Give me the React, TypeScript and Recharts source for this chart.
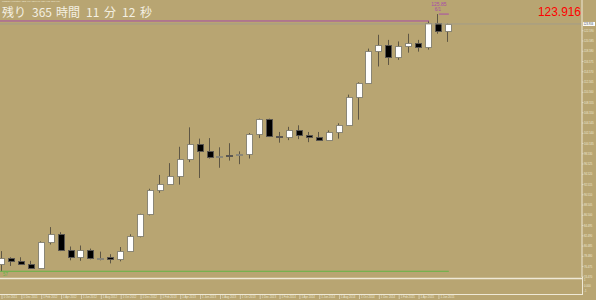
import React from 'react';
import { ComposedChart, Bar, XAxis, YAxis, ReferenceLine } from 'recharts';

// Monthly candles, Oct 2011 .. Jul 2015
const months = [
  '2011-10', '2011-11', '2011-12', '2012-01', '2012-02', '2012-03', '2012-04', '2012-05', '2012-06', '2012-07',
  '2012-08', '2012-09', '2012-10', '2012-11', '2012-12', '2013-01', '2013-02', '2013-03', '2013-04', '2013-05',
  '2013-06', '2013-07', '2013-08', '2013-09', '2013-10', '2013-11', '2013-12', '2014-01', '2014-02', '2014-03',
  '2014-04', '2014-05', '2014-06', '2014-07', '2014-08', '2014-09', '2014-10', '2014-11', '2014-12', '2015-01',
  '2015-02', '2015-03', '2015-04', '2015-05', '2015-06', '2015-07',
];
const opens = [
  77.0, 78.1, 77.5, 77.0, 76.2, 81.2, 82.9, 79.8, 78.4, 79.8,
  78.1, 78.3, 77.9, 79.6, 82.5, 86.7, 91.5, 92.6, 94.2, 97.5,
  100.4, 99.1, 97.9, 98.3, 98.2, 98.4, 102.4, 105.3, 102.0, 101.8,
  103.2, 102.2, 101.8, 101.3, 102.8, 104.1, 109.7, 112.3, 118.6, 119.8,
  117.5, 119.6, 120.1, 119.4, 124.1, 122.49,
];
const highs = [
  79.5, 78.3, 78.3, 77.6, 81.4, 84.2, 83.2, 80.4, 80.6, 80.0,
  79.4, 78.9, 80.3, 82.8, 86.8, 91.7, 94.4, 96.7, 99.9, 103.7,
  101.5, 101.6, 99.8, 100.6, 99.0, 102.6, 105.4, 105.4, 102.8, 103.8,
  104.1, 102.8, 102.8, 103.1, 104.5, 110.1, 112.5, 119.1, 121.8, 120.8,
  120.5, 122.0, 120.8, 124.5, 125.85, 123.99,
];
const lows = [
  75.56, 76.6, 77.1, 76.0, 76.1, 80.8, 79.5, 77.7, 77.6, 77.9,
  77.7, 77.1, 77.5, 79.5, 82.2, 86.5, 90.9, 92.5, 92.5, 96.9,
  93.8, 97.6, 95.8, 97.2, 96.5, 97.6, 101.6, 101.8, 100.7, 101.2,
  101.4, 100.8, 101.1, 101.1, 101.5, 104.0, 105.2, 112.2, 115.6, 115.9,
  116.9, 118.3, 118.5, 118.9, 122.0, 120.41,
];
const closes = [
  78.1, 77.5, 77.0, 76.2, 81.2, 82.9, 79.8, 78.4, 79.8, 78.2,
  78.2, 77.9, 79.6, 82.5, 86.7, 91.5, 92.6, 94.2, 97.5, 100.4,
  99.1, 97.9, 98.1, 98.2, 98.4, 102.4, 105.3, 102.0, 101.8, 103.2,
  102.2, 101.8, 101.3, 102.8, 104.1, 109.7, 112.3, 118.6, 119.8, 117.5,
  119.6, 120.1, 119.4, 124.1, 122.5, 123.916,
];

const priceTicks = [
  122.59, 120.585, 118.58, 116.575, 114.57, 112.565, 110.56, 108.555, 106.55, 104.545,
  102.54, 100.535, 98.53, 96.525, 94.52, 92.515, 90.51, 88.505, 86.5, 84.495,
  82.49, 80.485, 78.48, 76.475, 74.47,
];
const dateTickIndex = [0, 2, 4, 6, 8, 10, 12, 14, 16, 18, 20, 22, 24, 26, 28, 30, 32, 34, 36, 38, 40, 42, 44];
const dateTickLabels = [
  '1 Oct 2011', '1 Dec 2011', '1 Feb 2012', '1 Apr 2012', '1 Jun 2012', '1 Aug 2012', '1 Oct 2012', '1 Dec 2012',
  '1 Feb 2013', '1 Apr 2013', '1 Jun 2013', '1 Aug 2013', '1 Oct 2013', '1 Dec 2013', '1 Feb 2014', '1 Apr 2014',
  '1 Jun 2014', '1 Aug 2014', '1 Oct 2014', '1 Dec 2014', '1 Feb 2015', '1 Apr 2015', '1 Jun 2015',
];

const currentPrice = 123.916;
const prevHigh = 124.5;
const prevHighIndex = 43;
const newHigh = 125.85;
const newHighLabel = '125.85';
const newHighDate = '6/1';
const newHighFrom = 44;
const newHighTo = 45;
const lowLine = 75.56;
const lowLineTo = 45;
const lowLineLabel = '57';

const symbolLine = 'USDJPY,Monthly  122.490 123.990 120.408 123.916';
const countdown = [
  { t: '残り', x: 2 },
  { t: '365', x: 32 },
  { t: '時間', x: 56 },
  { t: '11', x: 86 },
  { t: '分', x: 104 },
  { t: '12', x: 122 },
  { t: '秒', x: 140 },
];
const sepLabels = [
  { t: '1', y: 281 },
  { t: '0.000', y: 287 },
  { t: '-1', y: 292 },
];

const BG = '#B8A572';
const CREAM = '#EFE9D6';
const WICK = '#5E5644';
const PURPLE = '#A84CA8';
const GREEN = '#62B446';
const FONT = 'Liberation Sans, Arial, sans-serif';

const data = months.map((m, i) => ({
  i,
  month: m,
  open: opens[i],
  high: highs[i],
  low: lows[i],
  close: closes[i],
  range: [lows[i], highs[i]],
}));

const Candle = (props: any) => {
  const { x, y, width, height, payload } = props;
  if (!payload) return null;
  const { open, close, high, low } = payload;
  const top = Math.min(y, y + height);
  const h = Math.abs(height);
  const span = high - low || 1;
  const yOf = (p: number) => top + ((high - p) / span) * h;
  const cx = Math.round(x + width / 2) - 0.5;
  const bTop = Math.round(yOf(Math.max(open, close)));
  const bBot = Math.round(yOf(Math.min(open, close)));
  const up = close >= open;
  const bx = Math.round(x) + 0.5;
  return (
    <g>
      <line x1={cx} x2={cx} y1={top} y2={top + h} stroke={WICK} strokeWidth={1} />
      <rect
        x={bx}
        y={bTop + 0.5}
        width={width - 1}
        height={Math.max(1, bBot - bTop)}
        fill={up ? '#FFFFFF' : '#000000'}
        stroke={up ? '#8A8676' : '#5A5650'}
        strokeWidth={1}
      />
    </g>
  );
};

const XTick = (props: any) => {
  const { x, payload } = props;
  const k = dateTickIndex.indexOf(payload.value);
  const label = k >= 0 ? dateTickLabels[k] : '';
  return (
    <g>
      <line x1={x} x2={x} y1={295} y2={299} stroke={CREAM} strokeWidth={0.6} />
      <text x={x + 1.5} y={298.4} fontSize={2.8} fill={CREAM} fontFamily={FONT}>
        {label}
      </text>
    </g>
  );
};

const YTick = (props: any) => {
  const { y, payload } = props;
  return (
    <text x={584} y={y + 1} fontSize={2.7} fill={CREAM} fontFamily={FONT}>
      {payload.value.toFixed(3)}
    </text>
  );
};

const PriceBox = (props: any) => {
  const vb = props.viewBox || {};
  const yy = vb.y ?? 0;
  return (
    <g>
      <rect x={583} y={yy - 2} width={12} height={4} fill="#FFFFFF" />
      <text x={583.6} y={yy + 1} fontSize={2.7} fill="#333" fontFamily={FONT}>
        {currentPrice.toFixed(3)}
      </text>
    </g>
  );
};

const HighLabel = (props: any) => {
  const vb = props.viewBox || {};
  const xx = vb.x ?? 0;
  const yy = vb.y ?? 0;
  return (
    <g fontFamily={FONT} fill={PURPLE}>
      <text x={xx} y={yy - 8} fontSize={5} textAnchor="middle">{newHighLabel}</text>
      <text x={xx - 1} y={yy - 3.5} fontSize={4.5} textAnchor="middle">{newHighDate}</text>
    </g>
  );
};

const LowLabel = (props: any) => {
  const vb = props.viewBox || {};
  const xx = vb.x ?? 0;
  const yy = vb.y ?? 0;
  return (
    <text x={xx + 3} y={yy + 5} fontSize={4.5} fill={GREEN} fontFamily={FONT}>
      {lowLineLabel}
    </text>
  );
};

export default function App() {
  return (
    <div style={{ position: 'absolute', left: 0, top: 0, width: 596, height: 300, background: BG, overflow: 'hidden' }}>
      <ComposedChart
        width={596}
        height={300}
        data={data}
        margin={{ top: 0, right: 0, bottom: 0, left: 0 }}
      >
        <XAxis
          dataKey="i"
          type="number"
          domain={[-0.2014, 58.41]}
          allowDataOverflow
          ticks={dateTickIndex}
          interval={0}
          height={23}
          axisLine={false}
          tickLine={false}
          tick={<XTick />}
        />
        <YAxis
          orientation="right"
          type="number"
          domain={[74.44, 128.6]}
          allowDataOverflow
          ticks={priceTicks}
          interval={0}
          width={14}
          axisLine={{ stroke: CREAM, strokeWidth: 1 }}
          tickLine={{ stroke: CREAM, strokeWidth: 0.6 }}
          tickSize={1.5}
          tick={<YTick />}
        />
        <ReferenceLine y={currentPrice} stroke="#A29C88" strokeWidth={1} label={<PriceBox />} />
        <ReferenceLine
          segment={[{ x: -0.2014, y: prevHigh }, { x: prevHighIndex, y: prevHigh }]}
          stroke={PURPLE}
          strokeWidth={1}
        />
        <ReferenceLine
          segment={[{ x: newHighFrom, y: newHigh }, { x: newHighTo, y: newHigh }]}
          stroke={PURPLE}
          strokeWidth={1}
          label={<HighLabel />}
        />
        <ReferenceLine
          segment={[{ x: -0.2014, y: lowLine }, { x: lowLineTo, y: lowLine }]}
          stroke={GREEN}
          strokeWidth={1}
          label={<LowLabel />}
        />
        <Bar dataKey="range" barSize={7} shape={<Candle />} isAnimationActive={false} />
      </ComposedChart>
      <svg width={596} height={300} style={{ position: 'absolute', left: 0, top: 0, pointerEvents: 'none' }}>
        <line x1={0} x2={582} y1={278.5} y2={278.5} stroke={CREAM} strokeWidth={1.5} />
        <line x1={0} x2={582} y1={294.5} y2={294.5} stroke={CREAM} strokeWidth={1} />
        <line x1={582.5} x2={582.5} y1={277} y2={295} stroke={CREAM} strokeWidth={1} />
        {sepLabels.map((s) => (
          <text key={s.t} x={584} y={s.y} fontSize={2.7} fill={CREAM} fontFamily={FONT}>
            {s.t}
          </text>
        ))}
        <text x={2} y={2.3} fontSize={2.5} fill={CREAM} fontFamily={FONT}>
          {symbolLine}
        </text>
        {countdown.map((c) => (
          <text key={c.t} x={c.x} y={16.9} fontSize={12} fill="#F4F0E2" fontFamily="'Noto Sans CJK JP', sans-serif">
            {c.t}
          </text>
        ))}
        <text
          x={538}
          y={16}
          fontSize={13.5}
          fill="#FF0000"
          textLength={43}
          lengthAdjust="spacingAndGlyphs"
          fontFamily={FONT}
        >
          {currentPrice.toFixed(3)}
        </text>
      </svg>
    </div>
  );
}
